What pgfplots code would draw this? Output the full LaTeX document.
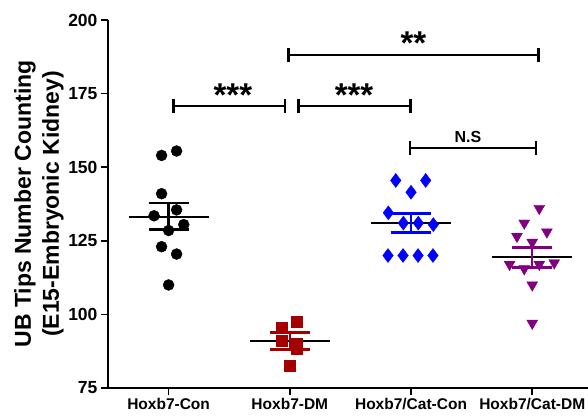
\documentclass[border=0pt]{standalone}
\usepackage{fontspec}
\setmainfont{Liberation Sans}
\usepackage{pgfplots}
\pgfplotsset{compat=1.18}

\definecolor{cdm}{RGB}{165,0,0}
\definecolor{ccat}{RGB}{0,0,255}
\definecolor{ccatdm}{RGB}{128,0,128}

\begin{document}
\begin{tikzpicture}
\begin{axis}[
    scale only axis,
    width=480pt, height=368pt,
    xmin=-0.5, xmax=3.46,
    ymin=75, ymax=200,
    axis lines=left,
    axis line style={-, line width=1.5pt},
    xtick={0,1,2,3},
    xticklabels={Hoxb7-Con,Hoxb7-DM,Hoxb7/Cat-Con,Hoxb7/Cat-DM},
    ytick={75,100,125,150,175,200},
    tick align=outside,
    major tick length=7pt,
    tick style={line width=1.5pt, black},
    /pgf/number format/assume math mode=true,
    xticklabel style={font=\bfseries\fontsize{15.5}{15.5}\selectfont},
    yticklabel style={font=\bfseries\fontsize{17.5}{17.5}\selectfont},
    ylabel={UB Tips Number Counting\\(E15-Embryonic Kidney)},
    ylabel style={font=\bfseries\fontsize{23}{28}\selectfont, align=center,
        at={(axis description cs:-0.144,0.5)}, anchor=center},
    clip=false,
]
% mean lines
\addplot[black, line width=2pt] coordinates {(-0.33,133.2) (0.33,133.2)};
\addplot[black, line width=2pt] coordinates {(0.67,91) (1.33,91)};
\addplot[black, line width=2pt] coordinates {(1.67,131) (2.33,131)};
\addplot[black, line width=2pt] coordinates {(2.67,119.4) (3.33,119.4)};
% SEM bars
\addplot[black, line width=2.5pt, unbounded coords=jump] coordinates {
    (-0.165,137.9) (0.165,137.9) (nan,nan)
    (0,137.9) (0,128.9) (nan,nan)
    (-0.165,128.9) (0.165,128.9)};
\addplot[cdm, line width=2.5pt, unbounded coords=jump] coordinates {
    (0.835,93.8) (1.165,93.8) (nan,nan)
    (1,93.8) (1,88.1) (nan,nan)
    (0.835,88.1) (1.165,88.1)};
\addplot[ccat, line width=2.5pt, unbounded coords=jump] coordinates {
    (1.835,134.3) (2.165,134.3) (nan,nan)
    (2,134.3) (2,127.9) (nan,nan)
    (1.835,127.9) (2.165,127.9)};
\addplot[ccatdm, line width=2.5pt, unbounded coords=jump] coordinates {
    (2.835,122.8) (3.165,122.8) (nan,nan)
    (3,122.8) (3,116) (nan,nan)
    (2.835,116) (3.165,116)};
% points
\addplot[only marks, mark=*, mark size=5.5pt, black] coordinates {
    (-0.058,154) (0.066,155.5) (-0.058,141) (-0.12,133.5) (0.066,135.5)
    (0.125,130.5) (0,128.5) (-0.058,123) (0.066,120.5) (0,110)};
\addplot[only marks, mark=square*, mark size=5.5pt, cdm] coordinates {
    (1.055,97.5) (0.932,95.5) (0.932,91) (1.055,90) (1.055,88.5) (1.0,82.5)};
\addplot[only marks, mark=diamond*, mark size=7pt, ccat] coordinates {
    (1.874,145.5) (2.121,145.5) (2,141.5) (1.813,134.5) (1.937,131)
    (2.06,131) (2.184,130.5) (1.81,120) (1.934,120) (2.058,120) (2.181,120)};
\addplot[only marks, mark=triangle*, mark size=6.3pt, ccatdm,
    mark options={rotate=180}] coordinates {
    (3.058,136) (2.934,131) (3.121,128) (2.874,126.5) (3,124.5)
    (2.813,117) (2.934,115.5) (3.058,117) (3.181,117.5) (3,110) (3,97)};
% significance brackets
\draw[line width=2.5pt] (axis cs:0.04,170.8) -- (axis cs:0.96,170.8);
\draw[line width=2.5pt] (axis cs:0.04,168.4) -- (axis cs:0.04,173.2);
\draw[line width=2.5pt] (axis cs:0.96,168.4) -- (axis cs:0.96,173.2);
\draw[line width=2.5pt] (axis cs:1.07,170.8) -- (axis cs:1.995,170.8);
\draw[line width=2.5pt] (axis cs:1.07,168.4) -- (axis cs:1.07,173.2);
\draw[line width=2.5pt] (axis cs:1.995,168.4) -- (axis cs:1.995,173.2);
\draw[line width=2.5pt] (axis cs:0.99,188.1) -- (axis cs:3.05,188.1);
\draw[line width=2.5pt] (axis cs:0.99,185.7) -- (axis cs:0.99,190.5);
\draw[line width=2.5pt] (axis cs:3.05,185.7) -- (axis cs:3.05,190.5);
\draw[line width=2.5pt] (axis cs:1.99,156.6) -- (axis cs:3.03,156.6);
\draw[line width=2.5pt] (axis cs:1.99,154.2) -- (axis cs:1.99,159);
\draw[line width=2.5pt] (axis cs:3.03,154.2) -- (axis cs:3.03,159);
\node[font=\bfseries\fontsize{33}{33}\selectfont] at (axis cs:0.53,174.5) {***};
\node[font=\bfseries\fontsize{33}{33}\selectfont] at (axis cs:1.53,174.5) {***};
\node[font=\bfseries\fontsize{33}{33}\selectfont] at (axis cs:2.02,192.2) {**};
\node[font=\bfseries\fontsize{16}{16}\selectfont] at (axis cs:2.47,160.4) {N.S};
\end{axis}
\pgfresetboundingbox
\path (-108pt,-30pt) rectangle (480pt,388pt);
\end{tikzpicture}
\end{document}
